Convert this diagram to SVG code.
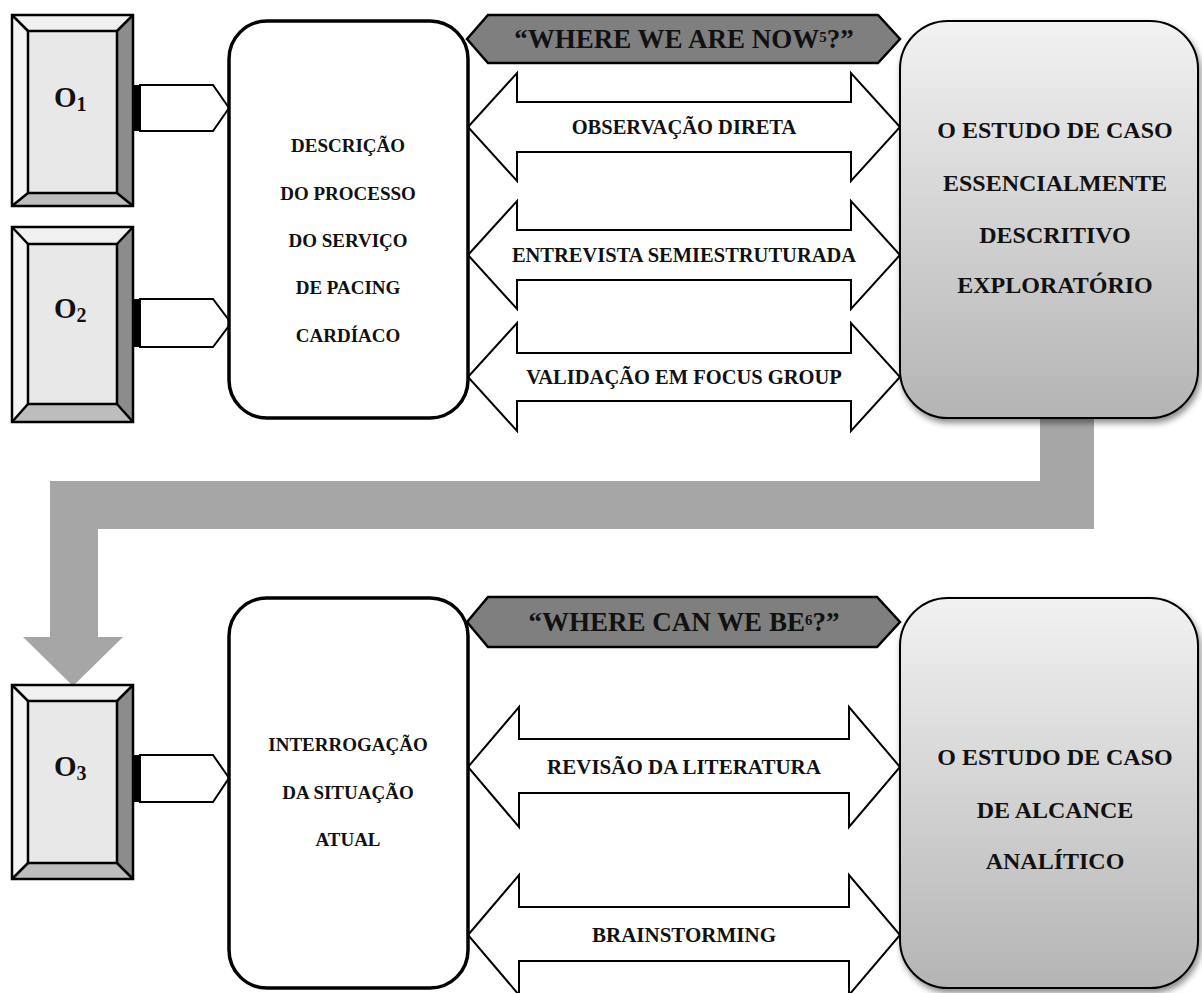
<svg xmlns="http://www.w3.org/2000/svg" width="1202" height="993" viewBox="0 0 1202 993">
<style>
.txt{font-family:"Liberation Serif","Times New Roman",serif;font-weight:bold;fill:#111;text-anchor:middle}
.box{fill:#fff;stroke:#000;stroke-width:3.5}
.gbox{fill:url(#gg);stroke:#000;stroke-width:2;filter:url(#sh)}
.arr{fill:#fff;stroke:#000;stroke-width:2;stroke-linejoin:miter}
.hex{fill:#7f7f7f;stroke:#000;stroke-width:2.5}
.bev{stroke:#000;stroke-width:2.5}
.pent{fill:#fff;stroke:#000;stroke-width:2}
</style>
<defs>
<linearGradient id="gg" x1="0" y1="0" x2="0" y2="1">
<stop offset="0" stop-color="#f2f2f2"/>
<stop offset="1" stop-color="#b4b4b4"/>
</linearGradient>
<filter id="sh" x="-10%" y="-10%" width="125%" height="125%">
<feDropShadow dx="2" dy="4" stdDeviation="3" flood-color="#000" flood-opacity="0.45"/>
</filter>
</defs>

<g id="flow">
<polygon fill="#a6a6a6" points="1040,415 1094,415 1094,529 98,529 98,637 123,637 73,686 23,637 50,637 50,481 1040,481"/>
</g>

<g id="O1">
<rect x="12" y="15" width="121" height="191" fill="#e8e8e8"/>
<polygon points="12,15 133,15 117,31 28,31" fill="#f0f0f0"/>
<polygon points="12,15 28,31 28,193 12,206" fill="#f4f4f4"/>
<polygon points="133,15 133,206 117,193 117,31" fill="#8c8c8c"/>
<polygon points="12,206 28,193 117,193 133,206" fill="#bdbdbd"/>
<g class="bev" fill="none"><rect x="12" y="15" width="121" height="191"/><rect x="28" y="31" width="89" height="162"/><path d="M12,15L28,31M133,15L117,31M12,206L28,193M133,206L117,193"/></g>
<text class="txt" x="54" y="107" style="text-anchor:start;font-size:29px">O<tspan font-size="20" dy="4">1</tspan></text>
<rect x="133" y="85" width="7" height="46" fill="#000"/>
<polygon class="pent" points="140,85 213,85 229,108 213,131 140,131"/>
</g>

<g id="O2">
<rect x="12" y="227" width="121" height="195" fill="#e8e8e8"/>
<polygon points="12,227 133,227 117,244 28,244" fill="#f0f0f0"/>
<polygon points="12,227 28,244 28,404 12,422" fill="#f4f4f4"/>
<polygon points="133,227 133,422 117,404 117,244" fill="#8c8c8c"/>
<polygon points="12,422 28,404 117,404 133,422" fill="#bdbdbd"/>
<g class="bev" fill="none"><rect x="12" y="227" width="121" height="195"/><rect x="28" y="244" width="89" height="160"/><path d="M12,227L28,244M133,227L117,244M12,422L28,404M133,422L117,404"/></g>
<text class="txt" x="54" y="318" style="text-anchor:start;font-size:29px">O<tspan font-size="20" dy="4">2</tspan></text>
<rect x="133" y="299" width="7" height="48" fill="#000"/>
<polygon class="pent" points="140,299 213,299 231,323 213,347 140,347"/>
</g>

<g id="O3">
<rect x="12" y="685" width="121" height="194" fill="#e8e8e8"/>
<polygon points="12,685 133,685 117,701 28,701" fill="#f0f0f0"/>
<polygon points="12,685 28,701 28,863 12,879" fill="#f4f4f4"/>
<polygon points="133,685 133,879 117,863 117,701" fill="#8c8c8c"/>
<polygon points="12,879 28,863 117,863 133,879" fill="#bdbdbd"/>
<g class="bev" fill="none"><rect x="12" y="685" width="121" height="194"/><rect x="28" y="701" width="89" height="162"/><path d="M12,685L28,701M133,685L117,701M12,879L28,863M133,879L117,863"/></g>
<text class="txt" x="54" y="776" style="text-anchor:start;font-size:29px">O<tspan font-size="20" dy="4">3</tspan></text>
<rect x="133" y="755" width="7" height="47" fill="#000"/>
<polygon class="pent" points="140,755 213,755 229,778 213,802 140,802"/>
</g>

<g id="connectors">
<path class="arr" d="M468,127L517,73L517,102L851,102L851,73L900,127L851,181L851,152L517,152L517,181Z"/>
<path class="arr" d="M468,255L517,201L517,230L851,230L851,201L900,255L851,309L851,280L517,280L517,309Z"/>
<path class="arr" d="M468,377L517,323L517,353L851,353L851,323L900,377L851,431L851,401L517,401L517,431Z"/>
<path class="arr" d="M468,767L519,707L519,739L849,739L849,707L900,767L849,827L849,793L519,793L519,827Z"/>
<path class="arr" d="M468,935L519,875L519,907L849,907L849,875L900,935L849,995L849,961L519,961L519,995Z"/>
</g>

<g id="desc">
<rect class="box" x="229" y="21" width="239" height="397" rx="38"/>
<text class="txt" x="348" y="152" font-size="19">DESCRIÇÃO</text>
<text class="txt" x="348" y="200" font-size="19">DO PROCESSO</text>
<text class="txt" x="348" y="247" font-size="19">DO SERVIÇO</text>
<text class="txt" x="348" y="294" font-size="19">DE PACING</text>
<text class="txt" x="348" y="342" font-size="19">CARDÍACO</text>
</g>

<g id="interr">
<rect class="box" x="229" y="598" width="239" height="390" rx="38"/>
<text class="txt" x="348" y="751" font-size="19">INTERROGAÇÃO</text>
<text class="txt" x="348" y="799" font-size="19">DA SITUAÇÃO</text>
<text class="txt" x="348" y="846" font-size="19">ATUAL</text>
</g>

<g id="hdr1">
<polygon class="hex" points="467,39 488,15 878,15 900,39 878,63 488,63"/>
<text class="txt" x="684" y="48" font-size="27">“WHERE WE ARE NOW<tspan font-size="15" dy="-6">5</tspan><tspan dy="6">?”</tspan></text>
</g>

<g id="hdr2">
<polygon class="hex" points="467,622 488,597 877,597 900,622 877,647 488,647"/>
<text class="txt" x="684" y="631" font-size="27">“WHERE CAN WE BE<tspan font-size="15" dy="-6">6</tspan><tspan dy="6">?”</tspan></text>
</g>

<g id="labels">
<text class="txt" x="684" y="134" font-size="20.5">OBSERVAÇÃO DIRETA</text>
<text class="txt" x="684" y="262" font-size="20.5">ENTREVISTA SEMIESTRUTURADA</text>
<text class="txt" x="684" y="384" font-size="20.5">VALIDAÇÃO EM FOCUS GROUP</text>
<text class="txt" x="684" y="774" font-size="21">REVISÃO DA LITERATURA</text>
<text class="txt" x="684" y="942" font-size="21">BRAINSTORMING</text>
</g>

<g id="estudo1">
<rect class="gbox" x="900" y="21" width="298" height="397" rx="48"/>
<text class="txt" x="1055" y="138" font-size="24">O ESTUDO DE CASO</text>
<text class="txt" x="1055" y="191" font-size="24">ESSENCIALMENTE</text>
<text class="txt" x="1055" y="243" font-size="24">DESCRITIVO</text>
<text class="txt" x="1055" y="293" font-size="24">EXPLORATÓRIO</text>
</g>

<g id="estudo2">
<rect class="gbox" x="900" y="598" width="298" height="390" rx="48"/>
<text class="txt" x="1055" y="765" font-size="24">O ESTUDO DE CASO</text>
<text class="txt" x="1055" y="818" font-size="24">DE ALCANCE</text>
<text class="txt" x="1055" y="869" font-size="24">ANALÍTICO</text>
</g>
</svg>
